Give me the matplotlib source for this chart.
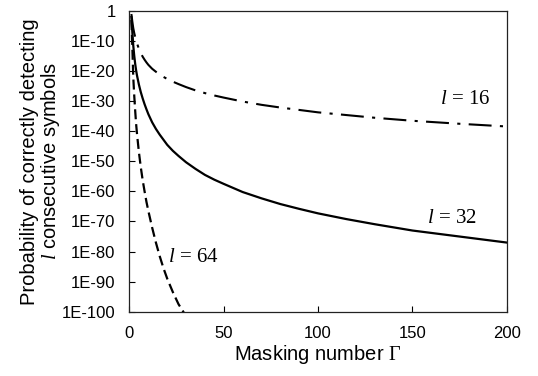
import matplotlib
matplotlib.use("Agg")
import matplotlib.pyplot as plt
import numpy as np

# values, y stored as log10(probability)
gamma_16 = [1, 1.5, 2, 2.5, 3, 3.5, 4, 5, 6, 7, 8, 9, 10, 12, 14, 16, 18, 20, 23, 26, 30,
            35, 40, 45, 50, 60, 70, 80, 90, 100, 115, 130, 150, 175, 200]
logp_16 = [-1.0, -3.5, -5.7, -7.3, -8.6, -9.8, -10.8, -12.6, -14.0, -15.2, -16.2, -17.1,
           -17.9, -19.2, -20.2, -21.1, -21.9, -22.6, -23.5, -24.3, -25.3, -26.4, -27.3,
           -28.1, -28.8, -30.1, -31.2, -32.1, -32.9, -33.7, -34.6, -35.5, -36.5, -37.5, -38.4]

gamma_32 = [1, 1.5, 2, 2.5, 3, 3.5, 4, 5, 6, 7, 8, 9, 10, 12, 14, 16, 18, 20, 23, 26, 30,
            35, 40, 45, 50, 60, 70, 80, 90, 100, 115, 130, 150, 175, 200]
logp_32 = [-2.0, -7.0, -11.5, -14.8, -17.5, -19.7, -21.5, -24.5, -27.0, -29.1, -31.0, -32.7,
           -34.3, -37.0, -39.2, -41.1, -42.8, -44.5, -46.5, -48.2, -50.3, -52.5, -54.5,
           -56.1, -57.5, -60.2, -62.3, -64.2, -65.8, -67.3, -69.2, -70.9, -73.0, -75.0, -77.0]

gamma_64 = [1, 1.25, 1.5, 1.75, 2, 2.5, 3, 3.5, 4, 5, 6, 7, 8, 9, 10, 12, 14, 16, 18, 20,
            23, 26, 30]
logp_64 = [-3.0, -7.0, -12.0, -17.0, -22.0, -28.0, -33.0, -37.5, -41.0, -47.0, -52.0, -56.3,
           -60.0, -63.5, -66.5, -72.0, -77.0, -81.5, -85.5, -89.0, -93.5, -97.5, -101.5]

ytick_exp = [0, -10, -20, -30, -40, -50, -60, -70, -80, -90, -100]
ytick_labels = ["1", "1E-10", "1E-20", "1E-30", "1E-40", "1E-50", "1E-60",
                "1E-70", "1E-80", "1E-90", "1E-100"]
xticks = [0, 50, 100, 150, 200]

plt.rcParams["font.family"] = ["Liberation Sans", "DejaVu Sans"]
plt.rcParams["mathtext.fontset"] = "custom"
plt.rcParams["mathtext.rm"] = "Liberation Serif"
plt.rcParams["mathtext.it"] = "Liberation Serif:italic"

fig = plt.figure(figsize=(5.38, 3.76), dpi=100)
ax = fig.add_axes([0.2407, 0.171, 0.7011, 0.7997])

ax.plot(gamma_16, 10.0 ** np.array(logp_16), color="black", lw=1.5,
        dashes=(11, 4, 1.5, 4))
ax.plot(gamma_32, 10.0 ** np.array(logp_32), color="black", lw=1.6)
ax.plot(gamma_64, 10.0 ** np.array(logp_64), color="black", lw=1.6, dashes=(4.5, 2.2))

ax.set_yscale("log")
ax.set_ylim(1e-100, 1)
ax.set_xlim(0, 200)
ax.set_yticks([10.0 ** e for e in ytick_exp])
ax.set_yticklabels(ytick_labels)
ax.minorticks_off()
ax.set_xticks(xticks)
ax.tick_params(direction="in", length=4, width=0.8, labelsize=12, pad=10)

for s in ax.spines.values():
    s.set_linewidth(0.9)
    s.set_color("#222222")

ax.set_xlabel(r"Masking number $\Gamma$", fontsize=14.5, labelpad=2)
ax.set_ylabel("Probability of correctly detecting\n" + r"$l$ consecutive symbols",
              fontsize=14.5, labelpad=0, linespacing=1.0)

labels = [(178, -29.3, r"$l$ = 16"), (171, -69.0, r"$l$ = 32"), (34, -82.0, r"$l$ = 64")]
for lx, ly, txt in labels:
    ax.text(lx, 10 ** ly, txt, fontsize=15, ha="center", va="center",
            family="Liberation Serif")

fig.savefig("out.png", dpi=100)
